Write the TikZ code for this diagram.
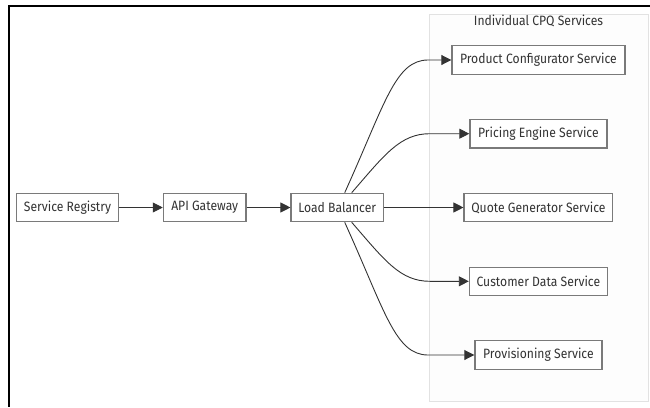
\documentclass[tikz,border=0pt]{standalone}
\usepackage{fontspec}
\setmainfont{Fira Sans}[FakeStretch=0.9]
\usetikzlibrary{arrows.meta}
\definecolor{txt}{HTML}{333333}
\definecolor{edge}{HTML}{333333}
\definecolor{boxline}{HTML}{7A7A7A}
\definecolor{grpline}{HTML}{E2E2E2}
\definecolor{grpfill}{HTML}{FDFDFD}
\tikzset{
  label font/.style={font=\fontsize{13.5}{16}\selectfont},
  svc/.style={draw=boxline, line width=1.2pt, fill=white, text=txt,
    inner sep=0pt, minimum height=28.4pt, label font},
  link/.style={draw=edge, line width=0.9pt,
    -{Triangle[length=10pt,width=10pt]}},
  frameline/.style={line width=2.7pt, draw=black}
}
\begin{document}
\begin{tikzpicture}[x=1pt, y=-1pt]
  \useasboundingbox (0,0) rectangle (650,407);
  % outer frame (top and left edges)
  \draw[frameline] (650,6) -- (9,6) -- (9,407);
  % service group
  \node[draw=grpline, fill=grpfill, line width=1pt, minimum width=219pt,
        minimum height=387pt, inner sep=0pt] (grp) at (538.5,207.5) {};
  \node[text=txt, label font] (grptitle) at (538.5,20.5) {Individual CPQ Services};
  % main chain
  \node[svc, minimum width=101.6pt] (reg) at (67.5,207.5) {Service Registry};
  \node[svc, minimum width=82.7pt]  (api) at (204.7,207.5) {API Gateway};
  \node[svc, minimum width=92.3pt]  (lb)  at (337.2,207.5) {Load Balancer};
  % services
  \node[svc, minimum width=173pt] (prod) at (538.4,60)    {Product Configurator Service};
  \node[svc, minimum width=137pt] (price) at (538.4,133.7) {Pricing Engine Service};
  \node[svc, minimum width=148.7pt] (quote) at (538.4,207.5) {Quote Generator Service};
  \node[svc, minimum width=138pt] (cust) at (538.4,281.3) {Customer Data Service};
  \node[svc, minimum width=127pt] (prov) at (538.4,355)   {Provisioning Service};
  % bend points of the fan-out edges
  \coordinate (b1) at (428,60);
  \coordinate (b2) at (430,133.7);
  \coordinate (b4) at (430,281.3);
  \coordinate (b5) at (428,355);
  % connectors
  \draw[link] (reg) -- (api);
  \draw[link] (api) -- (lb);
  \draw[link] (lb) -- (quote);
  \draw[link] ([xshift=7.5pt]lb.north) .. controls +(40,-88) and +(-33,0) .. (b1) -- (prod.west);
  \draw[link] ([xshift=14.5pt]lb.north) .. controls +(33,-38) and +(-30,0) .. (b2) -- (price.west);
  \draw[link] ([xshift=14.5pt]lb.south) .. controls +(33,38) and +(-30,0) .. (b4) -- (cust.west);
  \draw[link] ([xshift=7.5pt]lb.south) .. controls +(40,88) and +(-33,0) .. (b5) -- (prov.west);
\end{tikzpicture}
\end{document}
